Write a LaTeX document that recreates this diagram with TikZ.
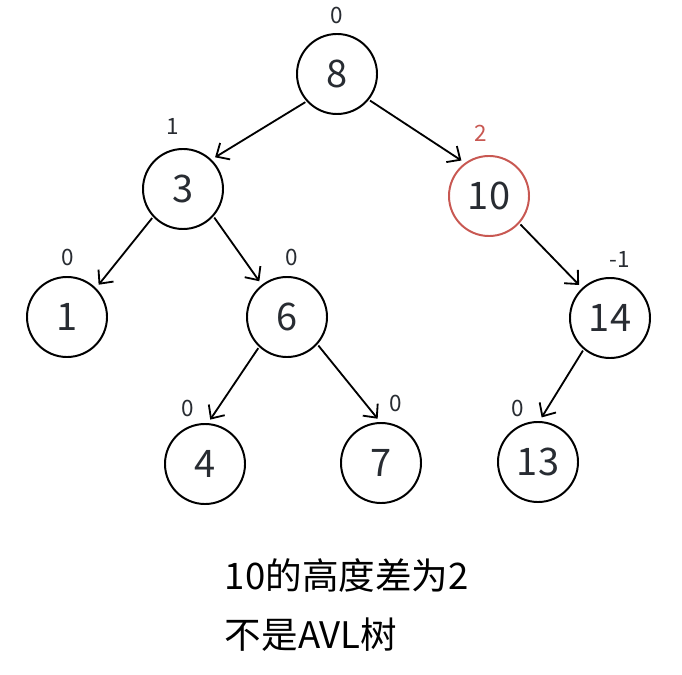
\documentclass[tikz,border=0pt]{standalone}
\usepackage{fontspec}
\setmainfont{Noto Sans CJK SC}
\usepackage{xcolor}
\usetikzlibrary{arrows.meta}
\definecolor{unbal}{RGB}{200,88,82}
\definecolor{ink}{RGB}{40,44,50}

\begin{document}
\begin{tikzpicture}[
      x=0.025cm, y=-0.025cm,
      key/.style={draw, circle, line width=1.4pt, minimum size=2cm, inner sep=0pt, text=ink, font=\fontsize{27}{30}\selectfont},
      bf/.style={text=ink, font=\fontsize{16}{18}\selectfont},
      arr/.style={-{Straight Barb[length=2.6mm, width=4.8mm]}, line width=1.3pt, shorten <=1pt, shorten >=3pt},
      note/.style={anchor=west, font=\fontsize{26}{30}\selectfont}
    ]
      \useasboundingbox (0,0) rectangle (682,675);
      % nodes
      \node[key] (n8) at (337,74) {8};
      \node[key] (n3) at (183,189) {3};
      \node[key, draw=unbal] (n10) at (489,196) {10};
      \node[key] (n1) at (67,317) {1};
      \node[key] (n6) at (287,317) {6};
      \node[key] (n14) at (610,318) {14};
      \node[key] (n4) at (205,464) {4};
      \node[key] (n7) at (381,463) {7};
      \node[key] (n13) at (538,462) {13};
      % balance factors
      \node[bf] (b8) at (337,15) {0};
      \node[bf] (b3) at (173,126) {1};
      \node[bf, text=unbal] (b10) at (481,133) {2};
      \node[bf] (b1) at (68,257) {0};
      \node[bf] (b6) at (292,257) {0};
      \node[bf] (b14) at (620,259) {-1};
      \node[bf] (b4) at (188,408) {0};
      \node[bf] (b7) at (396,403) {0};
      \node[bf] (b13) at (518,408) {0};
      % edges
      \draw[arr] (n8.222) -- (n3.46);
      \draw[arr] (n8.321) -- (n10.126);
      \draw[arr] (n3.223) -- (n1.45);
      \draw[arr] (n3.318) -- (n6.128);
      \draw[arr] (n10.318) -- (n14.133);
      \draw[arr] (n6.227) -- (n4.86);
      \draw[arr] (n6.318) -- (n7.91);
      \draw[arr] (n14.230) -- (n13.88);
      % note
      \node[note] (t1) at (220,576) {10的高度差为2};
      \node[note] (t2) at (220,635) {不是AVL树};
    \end{tikzpicture}
\end{document}
